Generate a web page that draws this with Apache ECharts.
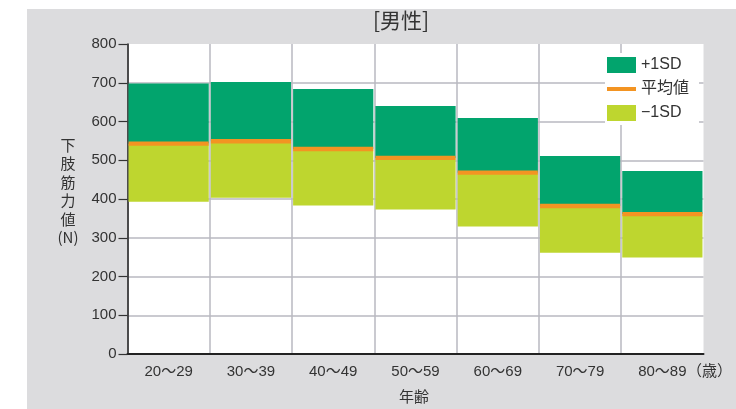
<!DOCTYPE html>
<html>
<head>
<meta charset="utf-8">
<style>
  html, body { margin: 0; padding: 0; background: #ffffff; }
  #chart { width: 736px; height: 409px; }
</style>
<script src="https://cdn.jsdelivr.net/npm/echarts@6/dist/echarts.min.js"></script>
</head>
<body>
<div id="chart"></div>
<script>
// Age groups (years)
const ageGroups = ['20〜29', '30〜39', '40〜49', '50〜59', '60〜69', '70〜79', '80〜89'];
// Lower-limb strength (N)
const plus1SD  = [698, 702, 684, 640, 609, 511, 472];
const meanVals = [543, 549, 529, 506, 468, 382, 361];
const minus1SD = [393, 403, 383, 373, 329, 261, 249];
const yTicks = [0, 100, 200, 300, 400, 500, 600, 700, 800];

const FONT = "'Liberation Sans', 'Noto Sans CJK JP', sans-serif";
const CJK = "'Noto Sans CJK JP', 'Liberation Sans', sans-serif";
const TXT = '#333333';
const GREEN = '#02a46d';
const LIME = '#bed62f';
const ORANGE = '#f39422';
const GRIDC = '#b9b9c0';
const NONE = 'rgba(0,0,0,0)';

// stacked segments: invisible base up to -1SD, lime from -1SD to mean, green from mean to +1SD
const baseSeg = minus1SD.slice();
const lowSeg = meanVals.map((m, i) => m - minus1SD[i]);
const highSeg = plus1SD.map((p, i) => p - meanVals[i]);

// grid line colours: no line along the top (800) and the right edge
const yGridColors = yTicks.map(v => (v === 800 ? NONE : GRIDC));
const xGridColors = ageGroups.map(() => GRIDC).concat([NONE]);

const chart = echarts.init(document.getElementById('chart'), null, { renderer: 'canvas' });

chart.setOption({
  animation: false,
  backgroundColor: '#ffffff',
  textStyle: { fontFamily: FONT },
  graphic: [
    { type: 'rect', z: -10, silent: true,
      shape: { x: 27, y: 9, width: 709, height: 400 },
      style: { fill: '#dcdcde' } },
    { type: 'text', x: 401, y: 10,
      style: { text: '[男性]', font: '21px ' + CJK, fill: TXT, align: 'center' } },
    { type: 'text', x: 68, y: 136,
      style: { text: '下\n肢\n筋\n力\n値\n(N)', font: '15px ' + CJK, fill: TXT,
               align: 'center', lineHeight: 18.4 } },
    { type: 'text', x: 687, y: 363,
      style: { text: '（歳）', font: '15px ' + CJK, fill: TXT } },
    { type: 'text', x: 414, y: 389,
      style: { text: '年齢', font: '15px ' + CJK, fill: TXT, align: 'center' } }
  ],
  grid: {
    left: 127.5, right: 32.5, top: 44, bottom: 55,
    show: true, backgroundColor: '#ffffff', borderWidth: 0
  },
  legend: {
    orient: 'vertical',
    left: 605, top: 53,
    padding: [4, 10, 4, 2],
    backgroundColor: '#ffffff',
    itemWidth: 29, itemHeight: 16, itemGap: 8,
    selectedMode: false,
    textStyle: { fontSize: 16, color: TXT, fontFamily: FONT },
    data: [
      { name: '+1SD', icon: 'rect' },
      { name: '平均値', icon: 'path://M0 0H29V4H0Z' },
      { name: '−1SD', icon: 'rect' }
    ]
  },
  xAxis: {
    type: 'category',
    data: ageGroups,
    boundaryGap: true,
    axisLine: { show: true, lineStyle: { color: '#222222', width: 2 } },
    axisTick: { show: false },
    axisLabel: { fontSize: 15, color: TXT, margin: 10, fontFamily: FONT },
    splitLine: { show: true, lineStyle: { color: xGridColors, width: 1.5 } }
  },
  yAxis: {
    type: 'value',
    min: 0, max: 800, interval: 100,
    axisLine: { show: true, lineStyle: { color: '#222222', width: 1.5 } },
    axisTick: { show: true, length: 9, lineStyle: { color: '#333333', width: 1.2 } },
    axisLabel: {
      fontSize: 15, color: TXT, margin: 11, fontFamily: FONT,
      formatter: v => (yTicks.indexOf(v) >= 0 ? String(v) : '')
    },
    splitLine: { show: true, lineStyle: { color: yGridColors, width: 1.5 } }
  },
  series: [
    { name: 'base', type: 'bar', stack: 'sd', data: baseSeg,
      itemStyle: { color: NONE }, barCategoryGap: '2.5%', silent: true },
    { name: '−1SD', type: 'bar', stack: 'sd', data: lowSeg,
      itemStyle: { color: LIME } },
    { name: '+1SD', type: 'bar', stack: 'sd', data: highSeg,
      itemStyle: { color: GREEN } },
    { name: '平均値', type: 'scatter', data: meanVals,
      symbol: 'rect', symbolSize: [80, 4.3], z: 5,
      itemStyle: { color: ORANGE, opacity: 1 } }
  ]
});
</script>
</body>
</html>
